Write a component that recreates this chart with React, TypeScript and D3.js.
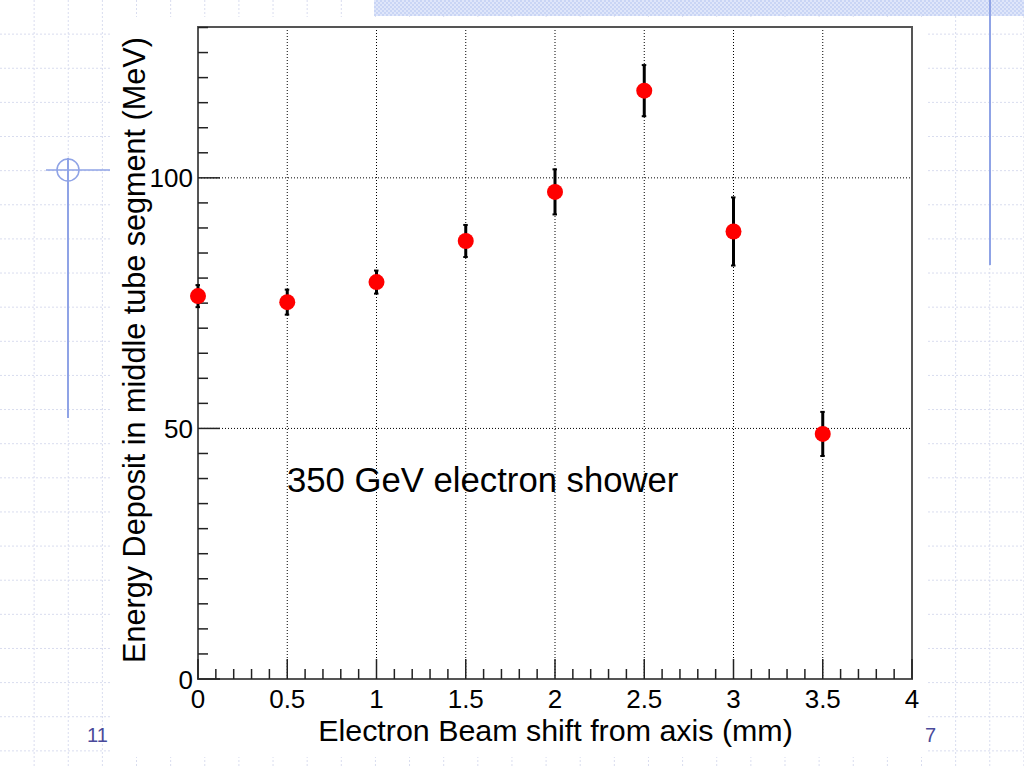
import React from "react";
import * as d3 from "d3";

const shiftMM = [0, 0.5, 1, 1.5, 2, 2.5, 3, 3.5];
const energyMeV = [76.4, 75.2, 79.2, 87.4, 97.2, 117.4, 89.3, 48.9];
const errorMeV = [2.2, 2.5, 2.3, 3.2, 4.5, 5.1, 6.8, 4.4];
const xTickLabels = ["0", "0.5", "1", "1.5", "2", "2.5", "3", "3.5", "4"];
const yTickLabels = ["0", "50", "100"];

const W = 1024;
const H = 768;
const FONT = "'Liberation Sans', Arial, Helvetica, sans-serif";

export default function App() {
  const left = 198, right = 912, top = 27, bottom = 679;
  const x = d3.scaleLinear().domain([0, 4]).range([left, right]);
  const y = d3.scaleLinear().domain([0, 130.1]).range([bottom, top]);

  const gridStep = 34.13;
  const vLines = d3.range(1, 31).map((i) => i * gridStep);
  const hLines = d3.range(1, 23).map((i) => i * gridStep);

  const xMinor = d3.range(0, 41).map((i) => i / 10);
  const yMinor = d3.range(0, 27).map((i) => i * 5);

  return (
    <svg width={W} height={H} style={{ position: "absolute", left: 0, top: 0, background: "#fff" }}>
      <defs>
        <pattern id="checker" width="4" height="4" patternUnits="userSpaceOnUse">
          <rect width="4" height="4" fill="#dfe6fa" />
          <rect width="2" height="2" fill="#c9d5f5" />
          <rect x="2" y="2" width="2" height="2" fill="#c9d5f5" />
        </pattern>
      </defs>
      {/* slide background grid */}
      <rect width={W} height={H} fill="#fff" />
      {vLines.map((v, i) => (
        <line key={"bv" + i} x1={v} x2={v} y1={0} y2={H} stroke="#d9ddef" strokeWidth={1} strokeDasharray="2,2" />
      ))}
      {hLines.map((v, i) => (
        <line key={"bh" + i} x1={0} x2={W} y1={v} y2={v} stroke="#d9ddef" strokeWidth={1} strokeDasharray="2,2" />
      ))}
      {/* top band */}
      <rect x={374} y={0} width={W - 374} height={16} fill="url(#checker)" />
      {/* right vertical line */}
      <line x1={990} x2={990} y1={0} y2={265} stroke="#8fa3e6" strokeWidth={2} />
      {/* crosshair */}
      <line x1={68} x2={68} y1={158} y2={418} stroke="#8fa3e6" strokeWidth={2} />
      <line x1={46} x2={110} y1={170} y2={170} stroke="#8fa3e6" strokeWidth={1.5} />
      <circle cx={68} cy={170} r={11} fill="none" stroke="#8fa3e6" strokeWidth={1.5} />

      {/* chart image background */}
      <rect x={110} y={17} width={817} height={740} fill="#fff" />

      {/* grid lines */}
      {[0.5, 1, 1.5, 2, 2.5, 3, 3.5].map((v) => (
        <line key={"gx" + v} x1={x(v)} x2={x(v)} y1={top} y2={bottom} stroke="#000" strokeWidth={1} strokeDasharray="1,2" />
      ))}
      {[50, 100].map((v) => (
        <line key={"gy" + v} x1={left} x2={right} y1={y(v)} y2={y(v)} stroke="#000" strokeWidth={1} strokeDasharray="1,2" />
      ))}

      {/* frame */}
      <rect x={left} y={top} width={right - left} height={bottom - top} fill="none" stroke="#555" strokeWidth={2} />

      {/* x ticks */}
      {xMinor.map((v, i) => {
        const major = i % 5 === 0;
        return (
          <line key={"xt" + i} x1={x(v)} x2={x(v)} y1={bottom} y2={bottom - (major ? 20 : 10)} stroke="#222" strokeWidth={1.5} />
        );
      })}
      {/* y ticks */}
      {yMinor.map((v, i) => {
        const major = i % 10 === 0;
        return (
          <line key={"yt" + i} x1={left} x2={left + (major ? 22 : 10)} y1={y(v)} y2={y(v)} stroke="#222" strokeWidth={1.5} />
        );
      })}

      {/* tick labels */}
      {xTickLabels.map((t) => (
        <text key={"xl" + t} x={x(+t)} y={708} textAnchor="middle" fontFamily={FONT} fontSize={26} fill="#000">
          {t}
        </text>
      ))}
      {yTickLabels.map((t) => (
        <text key={"yl" + t} x={193} y={y(+t) + 9.5} textAnchor="end" fontFamily={FONT} fontSize={26} fill="#000">
          {t}
        </text>
      ))}

      {/* axis titles */}
      <text x={555.5} y={741} textAnchor="middle" fontFamily={FONT} fontSize={30.4} fill="#000">
        Electron Beam shift from axis (mm)
      </text>
      <text
        transform={`translate(145,350) rotate(-90)`}
        textAnchor="middle"
        fontFamily={FONT}
        fontSize={30.6}
        fill="#000"
      >
        Energy Deposit in middle tube segment (MeV)
      </text>

      {/* annotation */}
      <text x={287} y={492} fontFamily={FONT} fontSize={34.7} fill="#000">
        350 GeV electron shower
      </text>

      {/* error bars */}
      {shiftMM.map((s, i) => (
        <g key={"eb" + i}>
          <line x1={x(s)} x2={x(s)} y1={y(energyMeV[i] - errorMeV[i])} y2={y(energyMeV[i] + errorMeV[i])} stroke="#000" strokeWidth={3} />
          <line x1={x(s) - 2.5} x2={x(s) + 2} y1={y(energyMeV[i] + errorMeV[i])} y2={y(energyMeV[i] + errorMeV[i])} stroke="#000" strokeWidth={2} />
          <line x1={x(s) - 2.5} x2={x(s) + 2} y1={y(energyMeV[i] - errorMeV[i])} y2={y(energyMeV[i] - errorMeV[i])} stroke="#000" strokeWidth={2} />
        </g>
      ))}
      {/* markers */}
      {shiftMM.map((s, i) => (
        <circle key={"m" + i} cx={x(s)} cy={y(energyMeV[i])} r={8} fill="#ff0000" />
      ))}

      {/* page numbers */}
      <text x={87} y={742} fontFamily={FONT} fontSize={20} fill="#4a4a9a">
        11
      </text>
      <text x={925} y={742} fontFamily={FONT} fontSize={20} fill="#4a4a9a">
        7
      </text>
    </svg>
  );
}
